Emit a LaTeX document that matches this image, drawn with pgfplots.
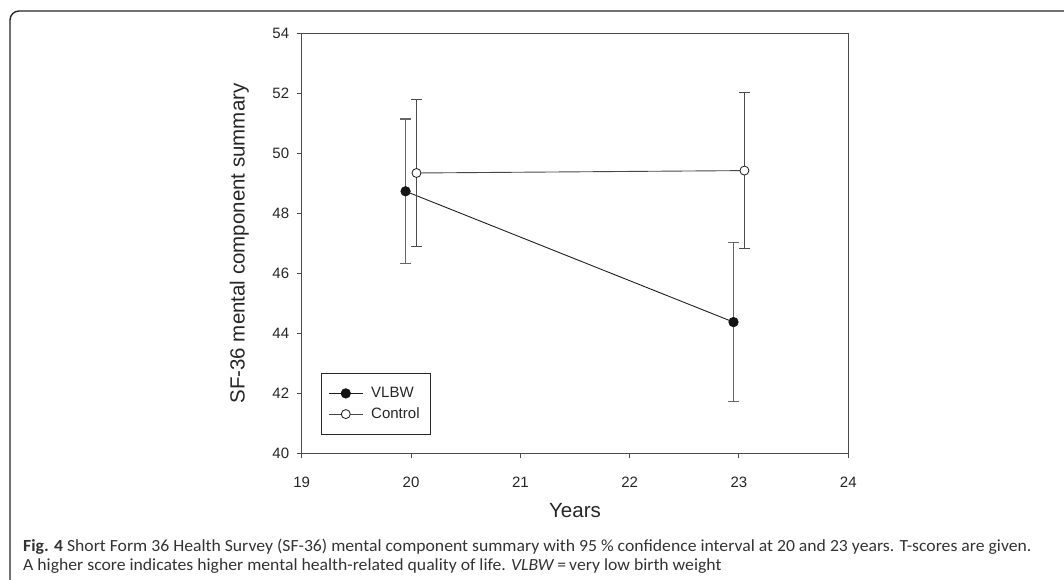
\documentclass[border=0pt]{standalone}
\usepackage{pgfplots}
\pgfplotsset{compat=1.18}
\usepackage{fontspec}
\setmainfont{Liberation Sans}
\newfontfamily\capfont{Carlito}
\definecolor{axgray}{HTML}{4A4A4A}
\definecolor{capgray}{HTML}{333333}
\pgfplotstableread{
x y e
19.95 48.74 2.41
22.95 44.38 2.66
}\vlbw
\pgfplotstableread{
x y e
20.05 49.35 2.46
23.05 49.43 2.60
}\control
\begin{document}
\begin{tikzpicture}[x=1pt,y=1pt]
\useasboundingbox (0,0) rectangle (1064,580);
\draw[line width=1.4pt, black!85, rounded corners=9pt] (10,-20) -- (10,569) -- (1090,569);
\begin{axis}[
  at={(301.7pt,126.5pt)}, anchor=south west,
  scale only axis, width=546.6pt, height=420pt,
  xmin=19, xmax=24, ymin=40, ymax=54,
  xtick={19,20,21,22,23,24}, ytick={40,42,44,46,48,50,52,54},
  /pgf/number format/assume math mode=true,
  tick align=outside, tick pos=left,
  major tick length=5pt,
  axis line style={axgray, line width=1pt},
  every tick/.style={axgray, line width=1pt},
  tick label style={font=\fontsize{15}{18}\selectfont, text=black!85},
  xticklabel style={yshift=-15pt},
  yticklabel style={xshift=-4pt},
  xlabel={Years}, ylabel={SF-36 mental component summary},
  label style={font=\fontsize{20.5}{24}\selectfont, text=black!85},
  xlabel style={at={(rel axis cs:0.5,0)}, anchor=base, yshift=-64pt},
  ylabel style={at={(rel axis cs:0,0.5)}, anchor=base, yshift=57pt},
  legend style={at={(rel axis cs:0.035,0.045)}, anchor=south west,
    draw=black!85, line width=1pt, fill=white,
    font=\fontsize{15}{18}\selectfont, text=black!85,
    inner xsep=7pt, inner ysep=10pt, row sep=0.7pt, column sep=4pt,
    nodes={inner xsep=4pt, inner ysep=3pt, text height=11pt, text depth=3pt}},
  legend cell align=left,
  legend image code/.code={
    \draw[mark repeat=2, mark phase=2, #1] plot coordinates {(0pt,0pt) (17pt,0pt) (34pt,0pt)};
  },
]
\addplot[black!88, line width=0.9pt, mark=*, mark size=4.7pt,
  mark options={fill=black!92, draw=black!92, line width=0.8pt},
  error bars/.cd, y dir=both, y explicit,
  error bar style={line width=1.1pt, black!60},
  error mark options={rotate=90, mark size=5.5pt, line width=1.1pt, black!60}]
  table[x=x, y=y, y error=e]{\vlbw};
\addlegendentry{VLBW}
\addplot[black!72, line width=0.9pt, mark=*, mark size=4.5pt,
  mark options={fill=white, draw=black!90, line width=0.8pt},
  error bars/.cd, y dir=both, y explicit,
  error bar style={line width=1.1pt, black!70},
  error mark options={rotate=90, mark size=5.5pt, line width=1.1pt, black!70}]
  table[x=x, y=y, y error=e]{\control};
\addlegendentry{Control}
\end{axis}
\node[anchor=base west, inner sep=0pt, text=capgray, font=\capfont\fontsize{17}{19}\selectfont] at (23,28)
  {\scalebox{1.04}[1]{\textbf{Fig. 4} Short Form 36 Health Survey (SF-36) mental component summary with 95 \% confidence interval at 20 and 23 years. T-scores are given.}};
\node[anchor=base west, inner sep=0pt, text=capgray, font=\capfont\fontsize{17}{19}\selectfont] at (23,9)
  {\scalebox{1.04}[1]{A higher score indicates higher mental health-related quality of life. \textit{VLBW}\,=\,very low birth weight}};
\end{tikzpicture}
\end{document}
